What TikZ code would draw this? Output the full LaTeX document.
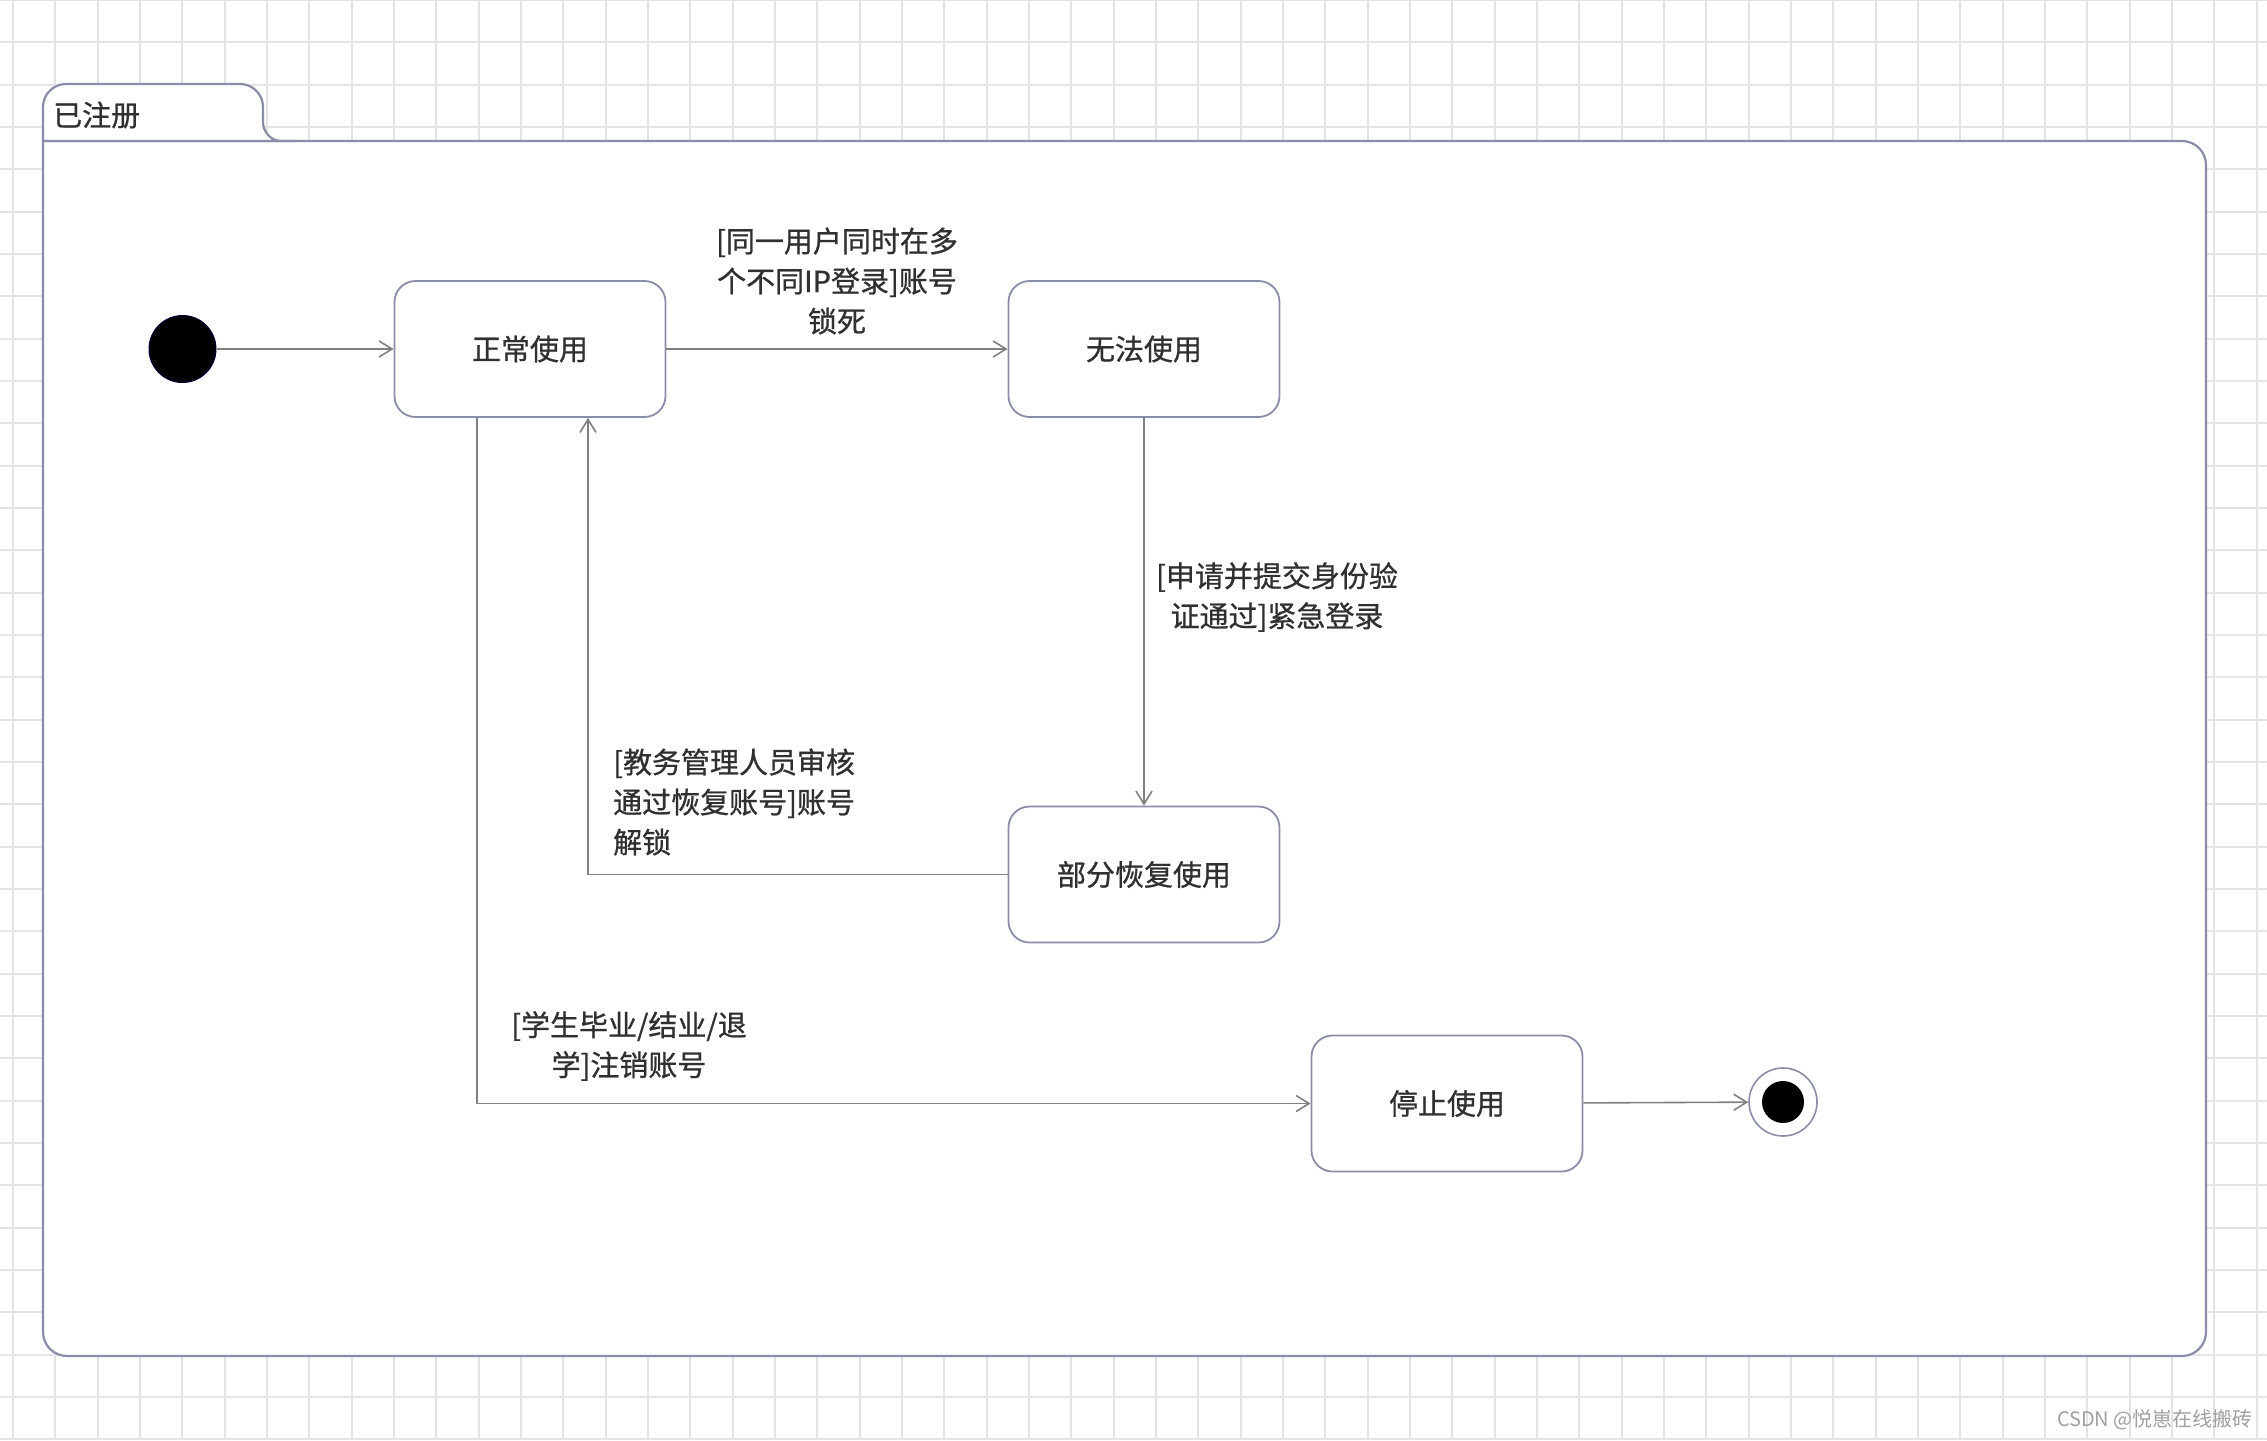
\documentclass[tikz,border=0pt]{standalone}
\usepackage{fontspec}
\newfontfamily\cjk{Noto Sans CJK SC}[FakeBold=0.8]
\newfontfamily\cjkwm{Noto Sans CJK SC}
\usetikzlibrary{arrows.meta}
\definecolor{gridc}{HTML}{E4E4E4}
\definecolor{boxc}{HTML}{8A8DA8}
\definecolor{linec}{HTML}{808080}
\definecolor{txtc}{HTML}{303030}
\definecolor{wmc}{HTML}{A0A0A0}
\begin{document}
\begin{tikzpicture}[x=1pt,y=-1pt,
  gridline/.style={draw=gridc, line width=2pt},
  frame/.style={draw=boxc, line width=2.2pt, fill=white},
  statebox/.style={draw=boxc, line width=1.8pt, rounded corners=21pt, fill=white,
    minimum width=271pt, minimum height=136pt, inner sep=0pt,
    font=\cjk\fontsize{29}{40}\selectfont, text=txtc},
  startstate/.style={circle, fill=black, draw=black!80!blue, line width=1pt, minimum size=67pt, inner sep=0pt},
  endstate/.style={circle, draw=boxc, line width=1.6pt, fill=white, minimum size=68pt, inner sep=0pt,
    path picture={\fill[black] (path picture bounding box.center) circle (21pt);}},
  conn/.style={draw=linec, line width=1.6pt, -{Straight Barb[length=13pt,width=16pt]}},
  lbl/.style={font=\cjk\fontsize{29}{40}\selectfont, text=txtc, inner sep=0pt},
]
\useasboundingbox (0,0) rectangle (2267,1440);
\fill[white] (0,0) rectangle (2267,1440);
% grid
\foreach \i in {0,...,53} \draw[gridline] ({13+42.33*\i},0) -- ({13+42.33*\i},1440);
\foreach \j in {0,...,34} \draw[gridline] (0,{42.33*\j}) -- (2267,{42.33*\j});
% frame
\draw[frame, rounded corners=24pt] (43,141) -- (2206,141) -- (2206,1356) -- (43,1356) -- (43,141);
% tab
\draw[frame] (43,141) -- (43,107) .. controls (43,94.3) and (53.3,84) .. (66,84) -- (240,84)
  .. controls (252.7,84) and (263,94.3) .. (263,107) -- (263,122)
  .. controls (263,132) and (271,141) .. (281,141) -- (297,141) -- cycle;
\node[lbl, anchor=west] (tabtext) at (53,115) {已注册};
% states
\node[startstate] (init) at (182.5,349) {};
\node[statebox] (normal) at (530,349) {正常使用};
\node[statebox] (locked) at (1144,349) {无法使用};
\node[statebox] (partial) at (1144,874.5) {部分恢复使用};
\node[statebox] (stopped) at (1447,1103.5) {停止使用};
\node[endstate] (fin) at (1783,1102) {};
% transitions
\draw[conn] (init) -- (normal);
\draw[conn] (normal) -- (locked);
\draw[conn] (locked) -- (partial);
\draw[conn] (partial.west) -| ([xshift=58pt]normal.south);
\draw[conn] ([xshift=-53pt]normal.south) |- (stopped.west);
\draw[conn] (stopped) -- (fin);
% labels
\node[lbl, align=center] (l1) at (837,281) {[同一用户同时在多\\个不同IP登录]账号\\锁死};
\node[lbl, align=center] (l2) at (1277,597) {[申请并提交身份验\\证通过]紧急登录};
\node[lbl, align=left, anchor=west] (l3) at (613,802) {[教务管理人员审核\\通过恢复账号]账号\\解锁};
\node[lbl, align=center] (l4) at (629,1046) {[学生毕业/结业/退\\学]注销账号};
% watermark
\node[font=\cjkwm\fontsize{20}{24}\selectfont, text=wmc, anchor=east, inner sep=0pt] (wm) at (2253,1420) {CSDN @悦崽在线搬砖};
\end{tikzpicture}
\end{document}
